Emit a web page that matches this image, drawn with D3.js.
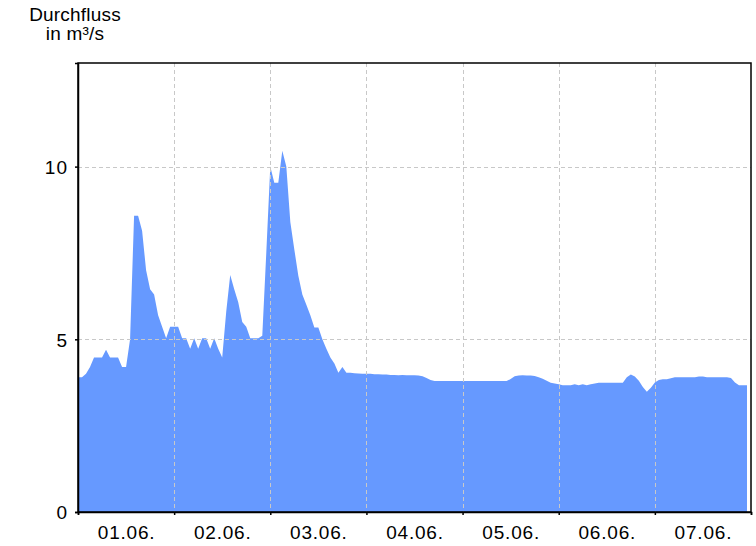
<!DOCTYPE html>
<html>
<head>
<meta charset="utf-8">
<script src="https://cdn.jsdelivr.net/npm/d3@7"></script>
<style>
  html, body { margin: 0; padding: 0; background: #fff; }
  svg { display: block; }
  text { font-family: "Liberation Sans", Arial, sans-serif; fill: #000; }
</style>
</head>
<body>
<svg id="chart" width="756" height="546"></svg>
<script>
// ---- data ----
const startTime = Date.UTC(2024, 5, 1, 0, 0); // 01.06. 00:00
const endTime = Date.UTC(2024, 5, 8, 0, 0);   // 08.06. 00:00
const stepHours = 1;
// Abfluss (m³/s), hourly from 01.06. 00:00
const discharge = [
  3.9, 3.9, 4.0, 4.2, 4.47, 4.47, 4.47, 4.7, 4.47, 4.47,
  4.47, 4.2, 4.2, 5.0, 8.58, 8.58, 8.14, 7.0, 6.45, 6.3,
  5.7, 5.36, 5.03, 5.36, 5.36, 5.36, 5.03, 5.03, 4.73, 5.03,
  4.73, 5.03, 5.03, 4.73, 5.03, 4.73, 4.47, 5.8, 6.86, 6.45,
  6.07, 5.5, 5.36, 5.03, 5.03, 5.03, 5.1, 7.5, 10.0, 9.53,
  9.53, 10.46, 10.0, 8.4, 7.6, 6.84, 6.3, 6.0, 5.7, 5.34,
  5.34, 5.0, 4.73, 4.47, 4.3, 4.03, 4.2, 4.03, 4.03, 4.02,
  4.01, 4.0, 4.0, 4.0, 3.99, 3.99, 3.98, 3.98, 3.97, 3.97,
  3.96, 3.97, 3.96, 3.96, 3.96, 3.95, 3.93, 3.88, 3.82, 3.79,
  3.79, 3.79, 3.79, 3.79, 3.79, 3.79, 3.79, 3.79, 3.79, 3.79,
  3.79, 3.79, 3.79, 3.79, 3.79, 3.79, 3.79, 3.79, 3.85, 3.93,
  3.95, 3.96, 3.95, 3.95, 3.94, 3.9, 3.86, 3.8, 3.74, 3.72,
  3.7, 3.67, 3.67, 3.67, 3.7, 3.67, 3.7, 3.67, 3.7, 3.72,
  3.74, 3.74, 3.74, 3.74, 3.74, 3.74, 3.74, 3.9, 3.98, 3.92,
  3.8, 3.62, 3.48, 3.6, 3.75, 3.82, 3.84, 3.84, 3.87, 3.9,
  3.9, 3.9, 3.9, 3.9, 3.9, 3.92, 3.92, 3.9, 3.9, 3.9,
  3.9, 3.9, 3.9, 3.88, 3.75, 3.67, 3.67, 3.67
];
const yTicks = [0, 5, 10];
const yMax = 13;
const titleLines = ["Durchfluss", "in m³/s"];

// ---- layout ----
const margin = { left: 78, right: 5, top: 63, bottom: 34 };
const W = 756, H = 546;
const svg = d3.select("#chart");

const x = d3.scaleUtc()
  .domain([new Date(startTime), new Date(endTime)])
  .range([margin.left, W - margin.right]);
const y = d3.scaleLinear()
  .domain([0, yMax])
  .range([H - margin.bottom, margin.top]);

const series = discharge.map((v, i) => ({
  t: new Date(startTime + i * stepHours * 3600 * 1000), v
}));

const dayTicks = d3.utcDay.range(new Date(startTime), new Date(endTime + 1));
const noonTicks = d3.utcDay.range(new Date(startTime), new Date(endTime))
  .map(d => d3.utcHour.offset(d, 12));

// area
svg.append("path")
  .datum(series)
  .attr("fill", "#6699ff")
  .attr("d", d3.area()
    .x(d => x(d.t))
    .y0(y(0))
    .y1(d => y(d.v)));

// grid
const grid = svg.append("g").attr("stroke", "#c8c8c8").attr("stroke-dasharray", "4,3").attr("stroke-width", 1);
grid.selectAll("line.v")
  .data(dayTicks.slice(1, -1))
  .join("line")
  .attr("x1", d => Math.round(x(d)) + 0.5).attr("x2", d => Math.round(x(d)) + 0.5)
  .attr("y1", y(yMax)).attr("y2", y(0));
grid.selectAll("line.h")
  .data(yTicks.filter(v => v > 0))
  .join("line")
  .attr("x1", x.range()[0]).attr("x2", x.range()[1])
  .attr("y1", d => Math.round(y(d)) + 0.5).attr("y2", d => Math.round(y(d)) + 0.5);

// frame (top / right)
svg.append("rect")
  .attr("x", x.range()[0]).attr("y", y(yMax))
  .attr("width", x.range()[1] - x.range()[0])
  .attr("height", y(0) - y(yMax))
  .attr("fill", "none").attr("stroke", "#000").attr("stroke-width", 1.5);

// y axis
const yAxis = svg.append("g")
  .attr("transform", `translate(${x.range()[0]},0)`)
  .call(d3.axisLeft(y).tickValues(yTicks).tickSize(3).tickPadding(7).tickFormat(d3.format("d")));
yAxis.select(".domain").attr("stroke", "#000").attr("stroke-width", 1.5);
yAxis.selectAll(".tick line").attr("stroke", "#000").attr("stroke-width", 1.5);
yAxis.selectAll("text").attr("font-size", 19).attr("font-family", "Liberation Sans, Arial, sans-serif")
  .attr("letter-spacing", 1).attr("dy", "0.36em");

// x axis: ticks at day boundaries, labels at noon
const xAxis = svg.append("g")
  .attr("transform", `translate(0,${y(0)})`)
  .call(d3.axisBottom(x).tickValues(dayTicks).tickSize(3).tickFormat(""));
xAxis.select(".domain").attr("stroke", "#000").attr("stroke-width", 1.5);
xAxis.selectAll(".tick line").attr("stroke", "#000").attr("stroke-width", 1.5);

const xLab = svg.append("g")
  .attr("transform", `translate(0,${y(0)})`)
  .call(d3.axisBottom(x).tickValues(noonTicks).tickSize(0).tickPadding(14).tickFormat(d3.utcFormat("%d.%m.")));
xLab.select(".domain").remove();
xLab.selectAll("text").attr("font-size", 19).attr("font-family", "Liberation Sans, Arial, sans-serif")
  .attr("letter-spacing", 0.8);

// title
const title = svg.append("text")
  .attr("text-anchor", "middle")
  .attr("font-size", 19)
  .attr("letter-spacing", 0.2);
title.selectAll("tspan")
  .data(titleLines)
  .join("tspan")
  .attr("x", 75)
  .attr("y", (d, i) => 21 + i * 19)
  .text(d => d);
</script>
</body>
</html>
